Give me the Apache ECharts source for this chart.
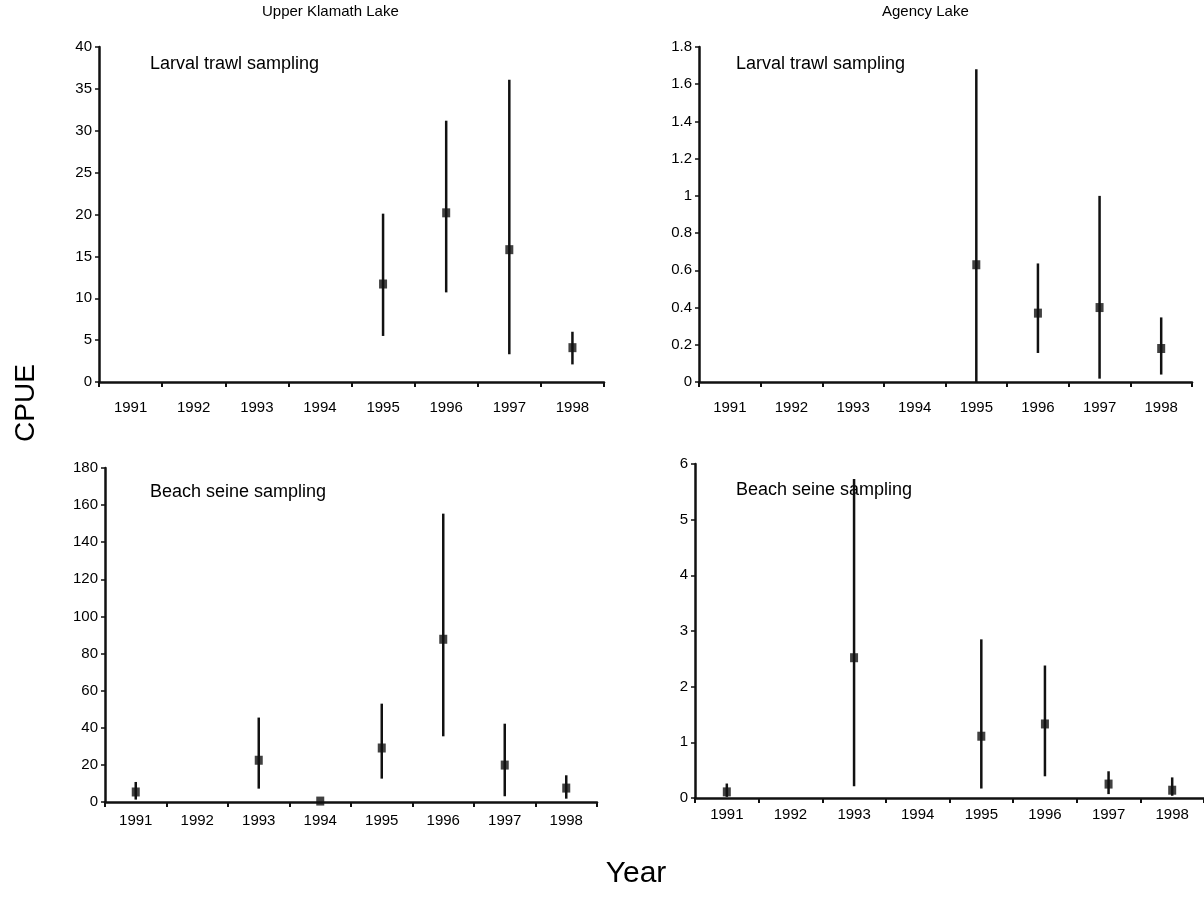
<!DOCTYPE html>
<html>
<head>
<meta charset="utf-8">
<title>CPUE by year</title>
<script src="https://cdn.jsdelivr.net/npm/echarts@6/dist/echarts.min.js"></script>
<style>
  html, body { margin: 0; padding: 0; background: #fff; overflow: hidden; }
  #chart { width: 1204px; height: 915px; }
</style>
</head>
<body>
<div id="chart"></div>
<script>
// Sampling years shared by all four panels
const years = ['1991', '1992', '1993', '1994', '1995', '1996', '1997', '1998'];

// Upper Klamath Lake – larval trawl sampling (mean CPUE with range)
const uklTrawlMean = [null, null, null, null, 11.7, 20.2, 15.8, 4.1];
const uklTrawlLow  = [null, null, null, null, 5.5, 10.7, 3.3, 2.1];
const uklTrawlHigh = [null, null, null, null, 20.1, 31.2, 36.1, 6.0];

// Agency Lake – larval trawl sampling
const agTrawlMean = [null, null, null, null, 0.63, 0.37, 0.40, 0.18];
const agTrawlLow  = [null, null, null, null, 0.0, 0.156, 0.018, 0.04];
const agTrawlHigh = [null, null, null, null, 1.68, 0.637, 1.0, 0.347];

// Upper Klamath Lake – beach seine sampling
const uklSeineMean = [5.4, null, 22.5, 0.5, 29.1, 87.7, 19.9, 7.5];
const uklSeineLow  = [1.3, null, 7.2, null, 12.6, 35.4, 3.1, 1.8];
const uklSeineHigh = [10.8, null, 45.5, null, 53.0, 155.4, 42.2, 14.4];

// Agency Lake – beach seine sampling
const agSeineMean = [0.11, null, 2.52, null, 1.11, 1.33, 0.25, 0.14];
const agSeineLow  = [0.02, null, 0.21, null, 0.17, 0.39, 0.07, 0.04];
const agSeineHigh = [0.26, null, 5.73, null, 2.85, 2.38, 0.48, 0.37];

// Y-axis ranges per panel
const yMax      = [40, 1.8, 180, 6];
const yInterval = [5, 0.2, 20, 1];

const ink = '#111';
const font = 'Liberation Sans, Arial, Helvetica, sans-serif';

const chart = echarts.init(document.getElementById('chart'), null, { renderer: 'canvas' });

// Plot areas (pixels)
const grids = [
  { left: 99,  top: 47,  width: 505, height: 335 },
  { left: 699, top: 47,  width: 493, height: 335 },
  { left: 105, top: 468, width: 492, height: 334 },
  { left: 695, top: 464, width: 512, height: 334 }
];
const labelMargins = [18, 18, 11, 9];

function xAxis(i) {
  return {
    type: 'category', gridIndex: i, data: years,
    boundaryGap: true,
    axisLine: { lineStyle: { color: ink, width: 2.5 } },
    axisTick: { show: true, length: 5, alignWithLabel: false, lineStyle: { color: ink, width: 2 } },
    axisLabel: { color: '#000', fontSize: 15, fontFamily: font, margin: labelMargins[i], interval: 0 },
    splitLine: { show: false }
  };
}
function yAxis(i) {
  return {
    type: 'value', gridIndex: i, min: 0, max: yMax[i], interval: yInterval[i],
    axisLine: { show: true, lineStyle: { color: ink, width: 2.5 } },
    axisTick: { show: true, length: 4, lineStyle: { color: ink, width: 1.5 } },
    axisLabel: { color: '#000', fontSize: 15, fontFamily: font, margin: 7 },
    splitLine: { show: false }
  };
}

function rangeData(low, high) {
  const out = [];
  for (let k = 0; k < years.length; k++) {
    if (low[k] != null && high[k] != null) out.push([k, low[k], high[k]]);
  }
  return out;
}
function meanData(mean) {
  const out = [];
  for (let k = 0; k < years.length; k++) {
    if (mean[k] != null) out.push([k, mean[k]]);
  }
  return out;
}

// Vertical range line drawn through the axis scales
function errorBars(i, low, high) {
  return {
    type: 'custom', xAxisIndex: i, yAxisIndex: i,
    data: rangeData(low, high),
    encode: { x: 0, y: [1, 2] },
    silent: true,
    renderItem: function (params, api) {
      const lo = api.coord([api.value(0), api.value(1)]);
      const hi = api.coord([api.value(0), api.value(2)]);
      return {
        type: 'line',
        shape: { x1: lo[0], y1: lo[1], x2: hi[0], y2: hi[1] },
        style: { stroke: ink, lineWidth: 2.5 }
      };
    },
    z: 2
  };
}
function means(i, mean) {
  return {
    type: 'scatter', xAxisIndex: i, yAxisIndex: i,
    data: meanData(mean),
    symbol: 'rect', symbolSize: [8, 9],
    itemStyle: { color: ink },
    silent: true,
    z: 3
  };
}

const noteStyle = { fill: '#000', fontSize: 18, fontFamily: font };

chart.setOption({
  animation: false,
  backgroundColor: '#fff',
  grid: grids,
  xAxis: [0, 1, 2, 3].map(xAxis),
  yAxis: [0, 1, 2, 3].map(yAxis),
  series: [
    errorBars(0, uklTrawlLow, uklTrawlHigh), means(0, uklTrawlMean),
    errorBars(1, agTrawlLow, agTrawlHigh),   means(1, agTrawlMean),
    errorBars(2, uklSeineLow, uklSeineHigh), means(2, uklSeineMean),
    errorBars(3, agSeineLow, agSeineHigh),   means(3, agSeineMean)
  ],
  graphic: [
    { type: 'text', left: 262, top: 4,  style: Object.assign({}, noteStyle, { text: 'Upper Klamath Lake', fontSize: 15 }) },
    { type: 'text', left: 882, top: 4,  style: Object.assign({}, noteStyle, { text: 'Agency Lake', fontSize: 15 }) },
    { type: 'text', left: 150, top: 55, style: Object.assign({}, noteStyle, { text: 'Larval trawl sampling' }) },
    { type: 'text', left: 736, top: 55, style: Object.assign({}, noteStyle, { text: 'Larval trawl sampling' }) },
    { type: 'text', left: 150, top: 483, style: Object.assign({}, noteStyle, { text: 'Beach seine sampling' }) },
    { type: 'text', left: 736, top: 481, style: Object.assign({}, noteStyle, { text: 'Beach seine sampling' }) },
    { type: 'text', x: 26, y: 403, rotation: Math.PI / 2,
      style: { text: 'CPUE', fill: '#000', fontSize: 28, fontFamily: font,
               align: 'center', verticalAlign: 'middle', textAlign: 'center', textVerticalAlign: 'middle' } },
    { type: 'text', x: 636, y: 874,
      style: { text: 'Year', fill: '#000', fontSize: 30, fontFamily: font,
               align: 'center', verticalAlign: 'middle', textAlign: 'center', textVerticalAlign: 'middle' } }
  ]
});
</script>
</body>
</html>
